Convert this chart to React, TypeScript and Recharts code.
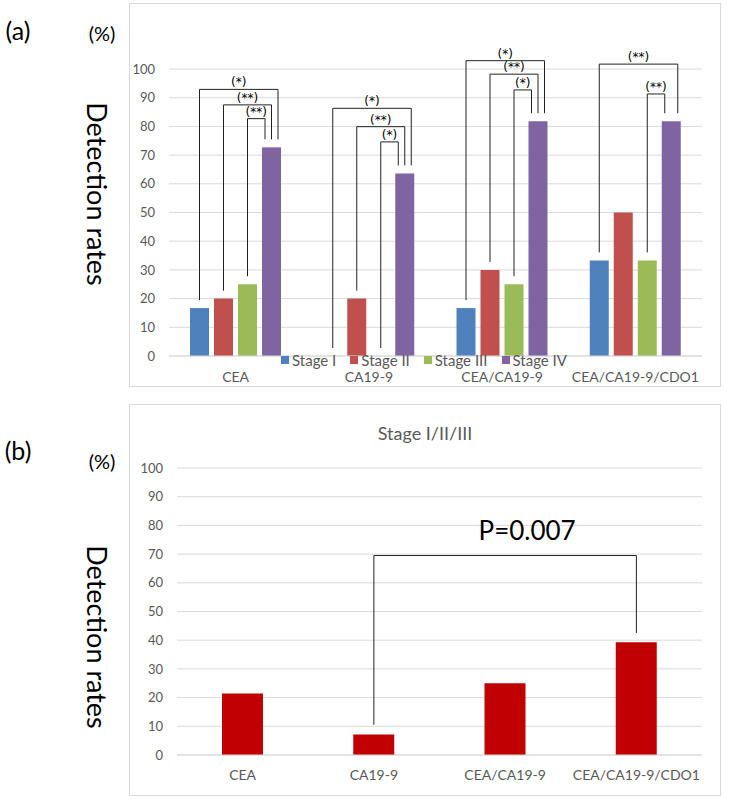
import React from "react";
import { BarChart, Bar, XAxis, YAxis, CartesianGrid, Legend, ReferenceLine, Label } from "recharts";

// detection rates (%) by marker and stage
const markers = ["CEA", "CA19-9", "CEA/CA19-9", "CEA/CA19-9/CDO1"];
const stageI = [16.7, 0, 16.7, 33.3];
const stageII = [20, 20, 30, 50];
const stageIII = [25, 0, 25, 33.3];
const stageIV = [72.7, 63.6, 81.8, 81.8];
const earlyStages = [21.4, 7.1, 25, 39.3];
const yTicks = [0, 10, 20, 30, 40, 50, 60, 70, 80, 90, 100];

// significance brackets in panel (a): group, left stage, nesting level, top value, mark
const bracketGroup = [0, 0, 0, 1, 1, 1, 2, 2, 2, 3, 3];
const bracketFrom = [0, 1, 2, 0, 1, 2, 0, 1, 2, 0, 2];
const bracketLevel = [2, 1, 0, 2, 1, 0, 2, 1, 0, 2, 0];
const bracketTop = [92.9, 87.5, 82.7, 86.3, 79.9, 74.6, 102.9, 98.2, 92.7, 101.7, 91.3];
const bracketMark = ["(*)", "(**)", "(**)", "(*)", "(**)", "(*)", "(*)", "(**)", "(*)", "(**)", "(**)"];

// panel (b) comparison
const pFrom = "CA19-9";
const pTo = "CEA/CA19-9/CDO1";
const pFromBottom = 10.5;
const pToBottom = 42.5;
const pTop = 69.5;
const pText = "P=0.007";

const FONT = "Lato, 'Open Sans', sans-serif";
const GRAY = "#595959";
const GRID = "#d9d9d9";
const STAGE_KEYS = ["s1", "s2", "s3", "s4"];
const STAGE_NAMES = ["Stage I", "Stage II", "Stage III", "Stage IV"];
const STAGE_COLORS = ["#4f81bd", "#c0504d", "#9bbb59", "#8064a2"];
const BAR_GAP = 5;

const rowsA = markers.map((name, i) => ({
  name,
  s1: stageI[i],
  s2: stageII[i],
  s3: stageIII[i],
  s4: stageIV[i],
}));
const rowsB = markers.map((name, i) => ({ name, v: earlyStages[i] }));

// Stage IV bar plus the brackets that end on it
const StageIVShape = (props: any) => {
  const { x, y, width, height, index, payload, fill } = props;
  const base = y + height;
  const unit = height / payload.s4;
  const yOf = (v: number) => base - v * unit;
  const cx = x + width / 2;
  const pitch = width + BAR_GAP;
  const items = bracketGroup.map((g, i) => i).filter((i) => bracketGroup[i] === index);
  return (
    <g>
      <rect x={x} y={y} width={width} height={height} fill={fill} />
      {items.map((i) => {
        const from = bracketFrom[i];
        const lx = cx - (3 - from) * pitch;
        const rx = cx + (bracketLevel[i] - 1) * 6.5;
        const top = yOf(bracketTop[i]);
        const lb = yOf(payload[STAGE_KEYS[from]]) - 8;
        const rb = y - 8;
        return (
          <g key={i}>
            <polyline
              points={`${lx},${lb} ${lx},${top} ${rx},${top} ${rx},${rb}`}
              fill="none"
              stroke="#222"
              strokeWidth={1}
            />
            <text
              x={(lx + rx) / 2}
              y={top - 3}
              textAnchor="middle"
              fontSize={12}
              fontFamily="'DejaVu Sans', sans-serif"
              fill="#000"
            >
              {bracketMark[i]}
            </text>
          </g>
        );
      })}
    </g>
  );
};

const StageLegend = ({ payload }: any) => (
  <div style={{ display: "flex", justifyContent: "center", paddingLeft: 12, fontFamily: FONT, fontSize: 15, color: GRAY, lineHeight: "16px" }}>
    {(payload || []).map((p: any) => (
      <div key={p.value} style={{ display: "flex", alignItems: "center", marginRight: 14 }}>
        <span style={{ width: 8, height: 8, background: p.color, marginRight: 3, display: "inline-block" }} />
        {p.value}
      </div>
    ))}
  </div>
);

const abs = (left: number, top: number, extra: React.CSSProperties = {}): React.CSSProperties => ({
  position: "absolute",
  left,
  top,
  fontFamily: FONT,
  whiteSpace: "nowrap",
  ...extra,
});

const Centered = ({ x, y, size, color = "#000", rotate = 0, children }: any) => (
  <div
    style={abs(x, y, {
      transform: `translate(-50%, -50%) rotate(${rotate}deg)`,
      fontSize: size,
      color,
      lineHeight: 1,
    })}
  >
    {children}
  </div>
);

export default function App() {
  const tick = { fill: GRAY, fontSize: 14, fontFamily: FONT };
  const yTick = { fill: GRAY, fontSize: 13, fontFamily: FONT };
  return (
    <div style={{ position: "absolute", left: 0, top: 0, width: 732, height: 799, background: "#fff" }}>
      <Centered x={18} y={30} size={25}>(a)</Centered>
      <Centered x={102} y={33} size={20}>(%)</Centered>
      <Centered x={97} y={194} size={27} rotate={90}>Detection rates</Centered>

      <div style={abs(129, 3, { border: `1px solid ${GRID}`, width: 590, height: 382 })}>
        <BarChart
          width={590}
          height={382}
          data={rowsA}
          margin={{ top: 65, right: 18, left: 0, bottom: 0 }}
          barGap={BAR_GAP}
        >
          <CartesianGrid vertical={false} stroke={GRID} />
          <XAxis dataKey="name" height={30} tick={tick} tickLine={false} axisLine={{ stroke: GRID }} tickMargin={10} interval={0} />
          <YAxis width={39} domain={[0, 100]} ticks={yTicks} tick={yTick} tickLine={false} axisLine={false} tickMargin={8} />
          <Legend
            layout="horizontal"
            verticalAlign="middle"
            align="center"
            content={<StageLegend />}
            wrapperStyle={{ top: 348, left: 0, width: 590 }}
          />
          {STAGE_KEYS.map((k, i) => (
            <Bar
              key={k}
              dataKey={k}
              name={STAGE_NAMES[i]}
              fill={STAGE_COLORS[i]}
              barSize={19}
              isAnimationActive={false}
              shape={i === 3 ? <StageIVShape /> : undefined}
            />
          ))}
        </BarChart>
      </div>

      <Centered x={18} y={450} size={25}>(b)</Centered>
      <Centered x={102} y={461} size={20}>(%)</Centered>
      <Centered x={97} y={637} size={27} rotate={90}>Detection rates</Centered>

      <div style={abs(129, 404, { border: `1px solid ${GRID}`, width: 590, height: 390 })}>
        <Centered x={295} y={28} size={18} color={GRAY}>Stage I/II/III</Centered>
        <BarChart width={590} height={390} data={rowsB} margin={{ top: 63, right: 18, left: 0, bottom: 0 }}>
          <CartesianGrid vertical={false} stroke={GRID} />
          <XAxis dataKey="name" height={40} tick={tick} tickLine={false} axisLine={{ stroke: GRID }} tickMargin={9} interval={0} />
          <YAxis width={47} domain={[0, 100]} ticks={yTicks} tick={yTick} tickLine={false} axisLine={false} tickMargin={8} />
          <Bar dataKey="v" fill="#c00000" barSize={41} isAnimationActive={false} />
          <ReferenceLine segment={[{ x: pFrom, y: pFromBottom }, { x: pFrom, y: pTop }]} stroke="#222" />
          <ReferenceLine segment={[{ x: pFrom, y: pTop }, { x: pTo, y: pTop }]} stroke="#222">
            <Label
              content={(p: any) => {
                const vb = p.viewBox || {};
                return (
                  <text x={vb.x + (vb.width || 0) / 2 + 22} y={vb.y - 16} textAnchor="middle" fontSize={26} fontFamily={FONT} fill="#000">
                    {pText}
                  </text>
                );
              }}
            />
          </ReferenceLine>
          <ReferenceLine segment={[{ x: pTo, y: pTop }, { x: pTo, y: pToBottom }]} stroke="#222" />
        </BarChart>
      </div>
    </div>
  );
}
